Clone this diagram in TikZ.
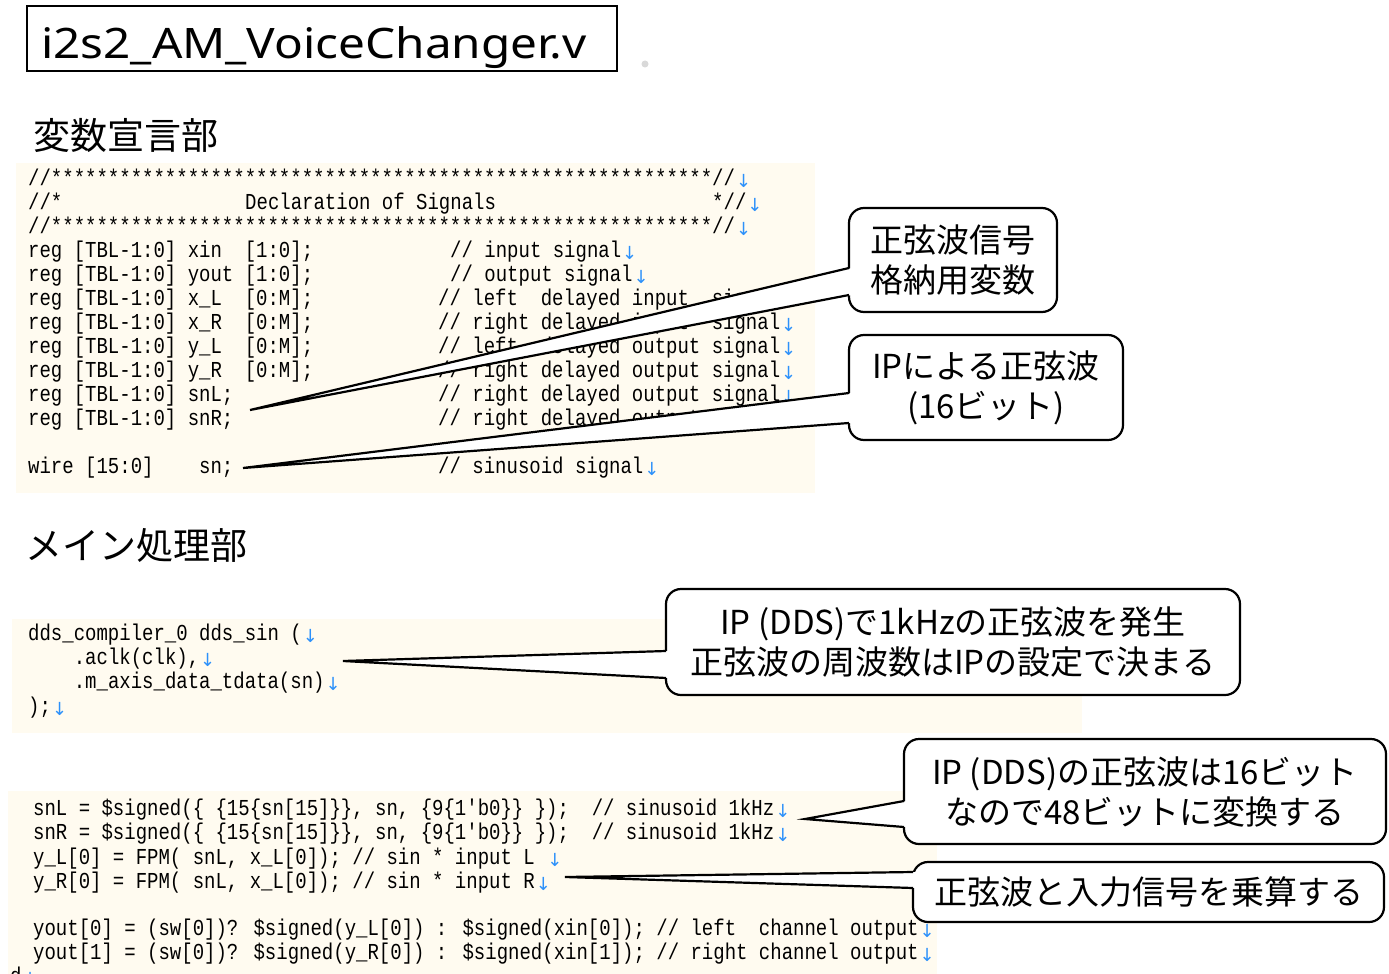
\documentclass[tikz,border=0pt]{standalone}
\usepackage{fontspec}
\newfontfamily\jpfont{Noto Sans CJK JP}
\newfontfamily\titlefont{Noto Sans}
\newfontfamily\codefont[FakeStretch=0.8333]{Liberation Mono}
\newfontfamily\arrfont{DejaVu Sans}
\definecolor{cream}{RGB}{255,251,240}
\definecolor{nlblue}{RGB}{45,145,250}
\newcommand\NLA{\hspace{1pt}\raisebox{-2.5pt}{\arrfont\fontsize{18}{18}\selectfont\color{nlblue}↓}}
\begin{document}
\begin{tikzpicture}[x=1pt,y=-1pt,
  codeline/.style={anchor=base west, inner sep=0pt, font=\codefont\fontsize{22.8}{24}\selectfont},
  headtext/.style={anchor=west, inner sep=0pt, font=\jpfont\fontsize{37}{40}\selectfont},
  callbox/.style={draw=black, line width=2.2pt, fill=white, rounded corners=15pt, inner sep=0pt, align=center, font=\jpfont\fontsize{33}{40}\selectfont},
  wedgefill/.style={fill=white, draw=none},
  wedgeline/.style={draw=black, line width=2.2pt, line join=miter},
  codebg/.style={fill=cream, draw=none}]
\path[use as bounding box] (0,0) rectangle (1389,974);
\clip (0,0) rectangle (1389,974);
\fill[white] (0,0) rectangle (1389,974);

% ---------- title ----------
\node[draw=black, line width=2pt, minimum width=590pt, minimum height=65pt, inner sep=0pt] (titlebox) at (322,38.5) {};
\node[anchor=base west, inner sep=0pt, font=\titlefont\fontsize{42}{44}\selectfont] (titletext) at (41,59) {\scalebox{1.135}[1]{i2s2\_AM\_VoiceChanger.v}};
\fill[gray!30] (645,64) circle (3.5);

% ---------- headings ----------
\node[headtext] (h1) at (33,135) {変数宣言部};
\node[headtext] (h2) at (25,545) {メイン処理部};

% ---------- code block 1 ----------
\path[codebg] (16,163) rectangle (815,493);
\node[codeline] (a1) at (28,185) {//**********************************************************//\NLA};
\node[codeline] (a2a) at (28,209) {//*};
\node[codeline] (a2b) at (245,209) {Declaration of Signals};
\node[codeline] (a2c) at (712,209) {*//\NLA};
\node[codeline] (a3) at (28,233) {//**********************************************************//\NLA};
\node[codeline] (a4) at (28,257) {reg [TBL-1:0] xin~~[1:0];};
\node[codeline] (a4c) at (450,257) {// input signal\NLA};
\node[codeline] (a5) at (28,281) {reg [TBL-1:0] yout [1:0];};
\node[codeline] (a5c) at (450,281) {// output signal\NLA};
\node[codeline] (a6) at (28,305) {reg [TBL-1:0] x\_L~~[0:M];};
\node[codeline] (a6c) at (438,305) {// left~~delayed input~~signal\NLA};
\node[codeline] (a7) at (28,329) {reg [TBL-1:0] x\_R~~[0:M];};
\node[codeline] (a7c) at (438,329) {// right delayed input~~signal\NLA};
\node[codeline] (a8) at (28,353) {reg [TBL-1:0] y\_L~~[0:M];};
\node[codeline] (a8c) at (438,353) {// left~~delayed output signal\NLA};
\node[codeline] (a9) at (28,377) {reg [TBL-1:0] y\_R~~[0:M];};
\node[codeline] (a9c) at (438,377) {// right delayed output signal\NLA};
\node[codeline] (a10) at (28,401) {reg [TBL-1:0] snL;};
\node[codeline] (a10c) at (438,401) {// right delayed output signal\NLA};
\node[codeline] (a11) at (28,425) {reg [TBL-1:0] snR;};
\node[codeline] (a11c) at (438,425) {// right delayed output signal\NLA};
\node[codeline] (a12) at (28,473) {wire [15:0]~~~~sn;};
\node[codeline] (a12c) at (438,473) {// sinusoid signal\NLA};

% ---------- code block 2 ----------
\path[codebg] (12,619) rectangle (1082,733);
\node[codeline] (b1) at (28,640) {dds\_compiler\_0 dds\_sin (\NLA};
\node[codeline] (b2) at (28,664) {~~~~.aclk(clk),\NLA};
\node[codeline] (b3) at (28,688) {~~~~.m\_axis\_data\_tdata(sn)\NLA};
\node[codeline] (b4) at (28,713) {);\NLA};

% ---------- code block 3 ----------
\path[codebg] (8,791) rectangle (937,974);
\node[codeline] (c1) at (33,815) {snL = \$signed(\{ \{15\{sn[15]\}\}, sn, \{9\{1'b0\}\} \});~~// sinusoid 1kHz\NLA};
\node[codeline] (c2) at (33,839) {snR = \$signed(\{ \{15\{sn[15]\}\}, sn, \{9\{1'b0\}\} \});~~// sinusoid 1kHz\NLA};
\node[codeline] (c3) at (33,864) {y\_L[0] = FPM( snL, x\_L[0]); // sin * input L~\NLA};
\node[codeline] (c4) at (33,888) {y\_R[0] = FPM( snL, x\_L[0]); // sin * input R\NLA};
\node[codeline] (c5) at (33,935) {yout[0] = (sw[0])? \$signed(y\_L[0]) : \$signed(xin[0]); // left~~channel output\NLA};
\node[codeline] (c6) at (33,959) {yout[1] = (sw[0])? \$signed(y\_R[0]) : \$signed(xin[1]); // right channel output\NLA};
\node[codeline] (c7) at (10,983) {d\NLA};

% ---------- callouts ----------
% A
\node[callbox, minimum width=208pt, minimum height=104pt] (cA) at (953,260) {正弦波信号\\格納用変数};
\coordinate (cAa) at (849,268);
\coordinate (cAb) at (849,295);
\coordinate (tA) at (250,410);
\path[wedgefill] (tA) -- ([xshift=3pt]cAa) -- ([xshift=3pt]cAb) -- cycle;
\draw[wedgeline] (cAa) -- (tA) -- (cAb);
% B
\node[callbox, minimum width=274pt, minimum height=105pt] (cB) at (986,387.5) {IPによる正弦波\\(16ビット)};
\coordinate (cBa) at (849,393);
\coordinate (cBb) at (849,423);
\coordinate (tB) at (243,468);
\path[wedgefill] (tB) -- ([xshift=3pt]cBa) -- ([xshift=3pt]cBb) -- cycle;
\draw[wedgeline] (cBa) -- (tB) -- (cBb);
% C
\node[callbox, minimum width=574pt, minimum height=106pt] (cC) at (953,642) {IP (DDS)で1kHzの正弦波を発生\\正弦波の周波数はIPの設定で決まる};
\coordinate (cCa) at (666,651);
\coordinate (cCb) at (666,678);
\coordinate (tC) at (343,661);
\path[wedgefill] (tC) -- ([xshift=3pt]cCa) -- ([xshift=3pt]cCb) -- cycle;
\draw[wedgeline] (cCa) -- (tC) -- (cCb);
% D
\node[callbox, minimum width=482pt, minimum height=105pt] (cD) at (1145,791.5) {IP (DDS)の正弦波は16ビット\\なので48ビットに変換する};
\coordinate (cDa) at (904,801);
\coordinate (cDb) at (904,827);
\coordinate (tD) at (805,819);
\path[wedgefill] (tD) -- ([xshift=3pt]cDa) -- ([xshift=3pt]cDb) -- cycle;
\draw[wedgeline] (cDa) -- (tD) -- (cDb);
% E
\node[callbox, minimum width=471pt, minimum height=60pt] (cE) at (1148.5,892) {正弦波と入力信号を乗算する};
\coordinate (cEa) at (913,872);
\coordinate (cEb) at (913,888);
\coordinate (tE) at (565,877);
\path[wedgefill] (tE) -- ([xshift=3pt]cEa) -- ([xshift=3pt]cEb) -- cycle;
\draw[wedgeline] (cEa) -- (tE) -- (cEb);
\end{tikzpicture}
\end{document}
